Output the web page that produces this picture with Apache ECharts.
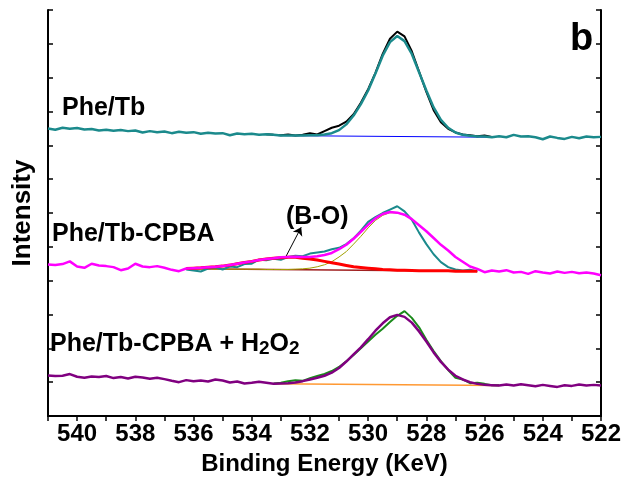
<!DOCTYPE html>
<html>
<head>
    <meta charset="utf-8">
    <title></title>
    <style>
        html, body { margin: 0; padding: 0; background: #fff; }
        #main { width: 624px; height: 485px; }
    </style>
</head>
<body>
    <div id="main"></div>
    <script src="https://cdn.jsdelivr.net/npm/echarts@6/dist/echarts.min.js"></script>
    <script>
    // binding energy grid (eV), shared by every spectrum
    var energy = [541, 540.75, 540.5, 540.25, 540, 539.75, 539.5, 539.25, 539, 538.75, 538.5, 538.25, 538, 537.75, 537.5, 537.25,
        537, 536.75, 536.5, 536.25, 536, 535.75, 535.5, 535.25, 535, 534.75, 534.5, 534.25, 534, 533.75, 533.5, 533.25,
        533, 532.75, 532.5, 532.25, 532, 531.75, 531.5, 531.25, 531, 530.75, 530.5, 530.25, 530, 529.75, 529.5, 529.25,
        529, 528.75, 528.5, 528.25, 528, 527.75, 527.5, 527.25, 527, 526.75, 526.5, 526.25, 526, 525.75, 525.5, 525.25,
        525, 524.75, 524.5, 524.25, 524, 523.75, 523.5, 523.25, 523, 522.75, 522.5, 522.25, 522];

    // Phe/Tb (top): teal envelope over the whole range, black raw data in the fit window
    var tbEnvelope = [8.50, 8.46, 8.52, 8.49, 8.51, 8.47, 8.48, 8.44, 8.46, 8.43, 8.45, 8.42, 8.44, 8.38, 8.42, 8.39,
        8.41, 8.36, 8.40, 8.37, 8.39, 8.34, 8.37, 8.35, 8.36, 8.30, 8.35, 8.33, 8.34, 8.31, 8.33, 8.31,
        8.29, 8.29, 8.29, 8.29, 8.30, 8.30, 8.32, 8.36, 8.45, 8.62, 8.88, 9.22, 9.62, 10.12, 10.65, 11.05,
        11.23, 11.08, 10.70, 10.16, 9.62, 9.12, 8.75, 8.52, 8.38, 8.31, 8.28, 8.26, 8.26, 8.24, 8.27, 8.24,
        8.31, 8.26, 8.27, 8.24, 8.18, 8.26, 8.22, 8.19, 8.25, 8.21, 8.26, 8.24, 8.25];
    var tbRawStart = 30; // 533.5 eV
    var tbRaw = [8.33, 8.31, 8.30, 8.32, 8.29, 8.31, 8.36, 8.32, 8.42, 8.52, 8.58, 8.70, 8.92, 9.26, 9.66, 10.14,
        10.70, 11.15, 11.36, 11.22, 10.78, 10.18, 9.58, 9.04, 8.68, 8.49, 8.38, 8.32, 8.30, 8.27, 8.29, 8.25];
    var tbBackground = [[533.3, 8.29], [525.8, 8.24]];

    // Phe/Tb-CPBA (middle)
    var cpbaEnvelope = [4.48, 4.46, 4.49, 4.57, 4.42, 4.38, 4.50, 4.45, 4.43, 4.40, 4.31, 4.36, 4.50, 4.42, 4.40, 4.43,
        4.38, 4.32, 4.28,
        4.36, 4.37, 4.38, 4.40, 4.41, 4.43, 4.46, 4.50, 4.54, 4.57, 4.61, 4.64, 4.66, 4.69, 4.70, 4.71,
        4.70, 4.70, 4.72, 4.76, 4.82, 4.93, 5.06, 5.24, 5.44, 5.65, 5.84, 5.97, 6.03, 6.01, 5.95, 5.82,
        5.64, 5.46, 5.26, 5.06, 4.89, 4.70, 4.56, 4.42, 4.35,
        4.25, 4.30, 4.27, 4.31, 4.24, 4.26, 4.20, 4.28, 4.24, 4.21, 4.27, 4.23, 4.26, 4.22, 4.24, 4.21, 4.16];
    var cpbaFitStart = 19; // 536.25 eV
    var cpbaRaw = [4.33, 4.30, 4.27, 4.36, 4.39, 4.33, 4.42, 4.40, 4.49, 4.50, 4.62, 4.60, 4.65, 4.62, 4.70, 4.74,
        4.72, 4.80, 4.83, 4.86, 4.93, 4.97, 5.08, 5.25, 5.48, 5.74, 5.88, 6.00, 6.10, 6.20, 6.05, 5.80,
        5.42, 5.08, 4.78, 4.55, 4.40, 4.33, 4.30, 4.32, 4.28];
    var cpbaBO = [4.36, 4.37, 4.38, 4.40, 4.41, 4.43, 4.46, 4.50, 4.54, 4.57, 4.61, 4.64, 4.66, 4.68, 4.69, 4.69,
        4.66, 4.64, 4.61, 4.57, 4.53, 4.49, 4.45, 4.41, 4.39, 4.37, 4.35, 4.33, 4.32, 4.31, 4.31, 4.30,
        4.29, 4.29, 4.29, 4.29, 4.29, 4.28, 4.28, 4.28, 4.28];
    var cpbaMain = [4.35, 4.35, 4.35, 4.35, 4.34, 4.34, 4.34, 4.34, 4.34, 4.34, 4.34, 4.33, 4.33, 4.33, 4.33, 4.34,
        4.35, 4.37, 4.41, 4.47, 4.56, 4.70, 4.86, 5.08, 5.31, 5.56, 5.78, 5.93, 6.01, 6.00, 5.94, 5.81,
        5.63, 5.45, 5.25, 5.05, 4.88, 4.69, 4.55, 4.41, 4.34];
    var cpbaBackground = [[536.25, 4.35], [526.25, 4.28]];
    var arrowFrom = [532.85, 4.67];
    var arrowTo = [532.3, 5.58];

    // Phe/Tb-CPBA + H2O2 (bottom)
    var h2o2Envelope = [1.20, 1.18, 1.19, 1.24, 1.16, 1.13, 1.17, 1.15, 1.18, 1.12, 1.15, 1.11, 1.16, 1.14, 1.10, 1.13,
        1.09, 1.04, 1.00, 1.06, 1.03, 1.05, 1.02, 1.08, 1.05, 0.99, 1.02, 0.96, 0.98, 1.01, 0.98,
        0.95, 0.96, 0.97, 0.99, 1.03, 1.08, 1.13, 1.19, 1.28, 1.42, 1.61, 1.82, 2.03, 2.27, 2.52, 2.74,
        2.92, 2.99, 2.93, 2.76, 2.50, 2.20, 1.88, 1.60, 1.37, 1.19, 1.08, 1.00, 0.95, 0.92, 0.91, 0.90,
        0.93, 0.90, 0.94, 0.91, 0.88, 0.92, 0.89, 0.86, 0.91, 0.89, 0.93, 0.90, 0.92, 0.90];
    var h2o2RawStart = 31; // 533.25 eV
    var h2o2Raw = [0.96, 0.98, 1.03, 1.06, 1.04, 1.12, 1.18, 1.24, 1.33, 1.45, 1.62, 1.80, 2.00, 2.20, 2.40, 2.58,
        2.78, 2.96, 3.10, 2.90, 2.62, 2.25, 1.92, 1.62, 1.36, 1.13, 1.08, 0.97, 0.98, 0.95, 0.91, 0.91];
    var h2o2Background = [[533.25, 0.95], [525.5, 0.90]];

    var FONT = "'Liberation Sans', Arial, sans-serif";

    function pairs(start, vals) {
        return vals.map(function (v, k) { return [energy[start + k], v]; });
    }

    function line(data, color, width, z) {
        return {
            type: 'line',
            data: data,
            showSymbol: false,
            symbol: 'none',
            silent: true,
            z: z,
            lineStyle: { color: color, width: width },
            itemStyle: { color: color }
        };
    }

    var frame = { show: true, lineStyle: { color: '#000', width: 2 } };
    var tickStyle = { color: '#000', width: 1.5 };

    var myChart = echarts.init(document.getElementById('main'));

    var boLine = line(pairs(cpbaFitStart, cpbaBO), '#ff0000', 3, 6);
    boLine.markLine = {
        silent: true,
        symbol: ['none', 'arrow'],
        symbolSize: 8,
        label: { show: false },
        lineStyle: { color: '#000', width: 1, type: 'solid' },
        data: [[{ coord: arrowFrom }, { coord: arrowTo }]]
    };

    option = {
        animation: false,
        grid: { left: 48, right: 20, top: 10, bottom: 69 },
        xAxis: [{
            type: 'value', min: 522, max: 541, interval: 1, inverse: true, position: 'bottom',
            axisLine: frame,
            axisTick: { inside: false, length: 5, lineStyle: tickStyle },
            axisLabel: {
                color: '#000', fontFamily: "'Liberation Sans Narrow', " + FONT, fontWeight: 'bold', fontSize: 24, margin: 6,
                formatter: function (v) { return v % 2 === 0 ? String(v) : ''; }
            },
            splitLine: { show: false },
            name: 'Binding Energy (KeV)', nameLocation: 'middle', nameGap: 36,
            nameTextStyle: { color: '#000', fontFamily: FONT, fontWeight: 'bold', fontSize: 24 }
        }, {
            type: 'value', min: 522, max: 541, interval: 1, inverse: true, position: 'top',
            axisLine: frame,
            axisTick: { inside: true, length: 4, lineStyle: tickStyle },
            axisLabel: { show: false },
            splitLine: { show: false }
        }],
        yAxis: [{
            type: 'value', min: 0, max: 12, interval: 1,
            axisLine: frame,
            axisTick: { inside: true, length: 5, lineStyle: tickStyle },
            axisLabel: { show: false },
            splitLine: { show: false },
            name: 'Intensity', nameLocation: 'middle', nameGap: 12,
            nameTextStyle: { color: '#000', fontFamily: FONT, fontWeight: 'bold', fontSize: 26 }
        }, {
            type: 'value', min: 0, max: 12, interval: 1, position: 'right',
            axisLine: frame,
            axisTick: { inside: true, length: 5, lineStyle: tickStyle },
            axisLabel: { show: false },
            splitLine: { show: false }
        }],
        series: [
            line(tbBackground, '#0000ff', 1, 2),
            line(pairs(tbRawStart, tbRaw), '#000000', 2, 3),
            line(pairs(0, tbEnvelope), '#1b8a8c', 2.5, 4),
            line(cpbaBackground, '#a02020', 1.5, 2),
            line(pairs(cpbaFitStart, cpbaMain), '#a0a000', 1, 3),
            line(pairs(cpbaFitStart, cpbaRaw), '#1b8a8c', 2, 4),
            boLine,
            line(pairs(0, cpbaEnvelope), '#ff00ff', 2.5, 7),
            line(h2o2Background, '#ff9933', 1.5, 2),
            line(pairs(h2o2RawStart, h2o2Raw), '#1a8a1a', 2, 3),
            line(pairs(0, h2o2Envelope), '#800080', 2.5, 4)
        ],
        graphic: [
            { type: 'text', x: 62, y: 108, style: { text: 'Phe/Tb', font: 'bold 25px ' + FONT, fill: '#000', verticalAlign: 'middle' } },
            { type: 'text', x: 52, y: 234, style: { text: 'Phe/Tb-CPBA', font: 'bold 25px ' + FONT, fill: '#000', verticalAlign: 'middle' } },
            { type: 'text', x: 286, y: 217, style: { text: '(B-O)', font: 'bold 25px ' + FONT, fill: '#000', verticalAlign: 'middle' } },
            {
                type: 'text', x: 50, y: 332,
                style: {
                    text: '{n|Phe/Tb-CPBA + H}{s|2}{n|O}{s|2}',
                    verticalAlign: 'top',
                    rich: {
                        n: { font: 'bold 25px ' + FONT, fill: '#000', lineHeight: 26, verticalAlign: 'top' },
                        s: { font: 'bold 19px ' + FONT, fill: '#000', lineHeight: 20, padding: [20, 0, 0, 0], verticalAlign: 'bottom' }
                    }
                }
            },
            { type: 'text', x: 570, y: 40, style: { text: 'b', font: 'bold 38px ' + FONT, fill: '#000', verticalAlign: 'middle' } }
        ]
    };
    myChart.setOption(option);
    </script>
</body>
</html>
